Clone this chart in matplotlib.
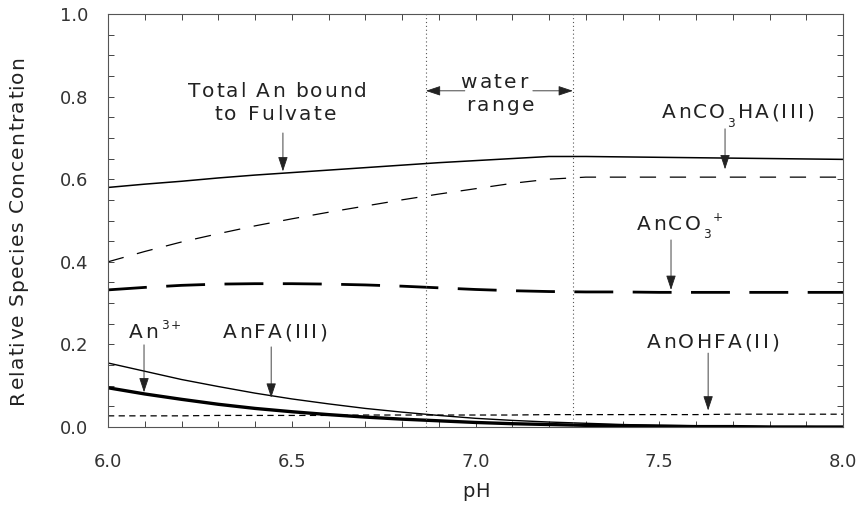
import numpy as np
import matplotlib
matplotlib.use("Agg")
import matplotlib.pyplot as plt
from matplotlib.ticker import MultipleLocator, FormatStrFormatter
from matplotlib.font_manager import FontProperties, findfont, get_font
from matplotlib.transforms import offset_copy

# pH grid and species fractions
ph = [6.0, 6.1, 6.2, 6.3, 6.4, 6.5, 6.6, 6.7, 6.8, 6.9, 7.0,
      7.1, 7.2, 7.3, 7.4, 7.5, 7.6, 7.7, 7.8, 7.9, 8.0]
total_bound = [0.580, 0.588, 0.595, 0.603, 0.610, 0.616, 0.622, 0.628, 0.634, 0.640, 0.645,
               0.650, 0.655, 0.655, 0.654, 0.653, 0.652, 0.651, 0.650, 0.649, 0.648]
anco3ha = [0.400, 0.425, 0.448, 0.468, 0.487, 0.504, 0.520, 0.535, 0.550, 0.564, 0.577,
           0.590, 0.600, 0.605, 0.605, 0.605, 0.605, 0.605, 0.605, 0.605, 0.605]
anco3 = [0.332, 0.338, 0.343, 0.346, 0.347, 0.347, 0.346, 0.344, 0.341, 0.337, 0.333,
         0.330, 0.328, 0.327, 0.327, 0.326, 0.326, 0.326, 0.326, 0.326, 0.326]
anfa = [0.155, 0.135, 0.115, 0.098, 0.082, 0.068, 0.056, 0.045, 0.036, 0.028, 0.021,
        0.016, 0.012, 0.009, 0.006, 0.004, 0.003, 0.002, 0.001, 0.001, 0.000]
an3 = [0.095, 0.080, 0.067, 0.055, 0.045, 0.037, 0.030, 0.024, 0.019, 0.015, 0.011,
       0.008, 0.006, 0.004, 0.003, 0.002, 0.001, 0.001, 0.000, 0.000, 0.000]
anohfa = [0.027, 0.027, 0.027, 0.028, 0.028, 0.028, 0.028, 0.029, 0.029, 0.029, 0.029,
          0.029, 0.030, 0.030, 0.030, 0.030, 0.030, 0.031, 0.031, 0.031, 0.031]
water_range = [6.865, 7.265]

txt = "#222222"
plt.rcParams['font.family'] = ['DejaVu Sans']
fig = plt.figure(figsize=(8.6, 5.05), dpi=100)
ax = fig.add_axes([108/860, 78/505, 735/860, 413/505])

ax.plot(ph, total_bound, color="k", lw=1.1)
ax.plot(ph, anco3ha, color="k", lw=0.9, dashes=(13, 11))
ax.plot(ph, anco3, color="k", lw=2.0, dashes=(14, 7))
ax.plot(ph, anfa, color="k", lw=1.0)
ax.plot(ph, an3, color="k", lw=2.4)
ax.plot(ph, anohfa, color="k", lw=0.9, dashes=(5, 3.5))
for w in water_range:
    ax.axvline(w, color="#555555", lw=0.8, ls=(0, (1, 2.5)))

ax.set_xlim(6.0, 8.0)
ax.set_ylim(0.0, 1.0)
ax.xaxis.set_major_locator(MultipleLocator(0.5))
ax.xaxis.set_minor_locator(MultipleLocator(0.1))
ax.yaxis.set_major_locator(MultipleLocator(0.2))
ax.yaxis.set_minor_locator(MultipleLocator(0.05))
ax.tick_params(which="both", direction="in", top=True, right=True, length=4,
               width=0.7, color="#444444")
ax.tick_params(axis="x", which="major", pad=19, labelsize=13, labelcolor="#333333")
ax.tick_params(axis="y", which="major", pad=14, labelsize=13, labelcolor="#333333")
ax.xaxis.set_major_formatter(FormatStrFormatter("%.1f"))
ax.yaxis.set_major_formatter(FormatStrFormatter("%.1f"))
for s in ax.spines.values():
    s.set_color("#555555")
    s.set_linewidth(0.8)

# letter-spaced text, drawn glyph by glyph
FONT = get_font(findfont(FontProperties(family="DejaVu Sans")))

def advance(c, size):
    FONT.set_size(size, 72)
    return FONT.load_char(ord(c)).linearHoriAdvance / 65536

def tracked(x, y, parts, size=14.5, track=1.7, trans=None, vertical=False):
    if trans is None:
        trans = ax.transData
    items = []
    pos = 0.0
    for text, kind in parts:
        s = size if kind == "n" else size * 0.6
        dy = {"n": 0.0, "sub": -0.42 * size, "sup": 0.45 * size}[kind]
        for c in text:
            items.append((c, pos, dy, s))
            pos += advance(c, s) + track
    start = -(pos - track) / 2
    for c, p, dy, s in items:
        if c == " ":
            continue
        if vertical:
            tr = offset_copy(trans, fig=fig, x=-dy, y=start + p, units="points")
        else:
            tr = offset_copy(trans, fig=fig, x=start + p, y=dy, units="points")
        ax.text(x, y, c, transform=tr, fontsize=s, color=txt, ha="left",
                va="baseline", rotation=90 if vertical else 0,
                rotation_mode="anchor", clip_on=False)

arrow = dict(arrowstyle="-|>,head_length=0.9,head_width=0.3", color="#222222",
             lw=0.6, shrinkA=0, shrinkB=0, mutation_scale=10)

def arrow_to(tip, tail):
    ax.annotate("", xy=tip, xytext=tail, arrowprops=arrow)

tracked(6.46, 0.799, [("Total An bound", "n")], track=1.4)
tracked(6.455, 0.743, [("to Fulvate", "n")])
arrow_to((6.476, 0.619), (6.476, 0.712))

tracked(7.05, 0.821, [("water", "n")])
tracked(7.067, 0.765, [("range", "n")])
arrow_to((water_range[0], 0.814), (6.971, 0.814))
arrow_to((water_range[1], 0.814), (7.156, 0.814))

tracked(7.714, 0.748, [("AnCO", "n"), ("3", "sub"), ("HA(III)", "n")])
arrow_to((7.679, 0.624), (7.679, 0.722))

tracked(7.556, 0.477, [("AnCO", "n"), ("3", "sub"), ("+", "sup")])
arrow_to((7.532, 0.332), (7.532, 0.453))

tracked(6.128, 0.215, [("An", "n"), ("3+", "sup")])
arrow_to((6.098, 0.084), (6.098, 0.199))

tracked(6.455, 0.215, [("AnFA(III)", "n")])
arrow_to((6.444, 0.071), (6.444, 0.194))

tracked(7.646, 0.191, [("AnOHFA(II)", "n")])
arrow_to((7.633, 0.040), (7.633, 0.179))

# axis titles
tracked(476/860, 8/505, [("pH", "n")], size=14, track=0.8, trans=fig.transFigure)
tracked(23/860, 275/505, [("Relative Species Concentration", "n")], size=14.5,
        track=0.8, trans=fig.transFigure, vertical=True)

fig.savefig("out.png", dpi=100)
